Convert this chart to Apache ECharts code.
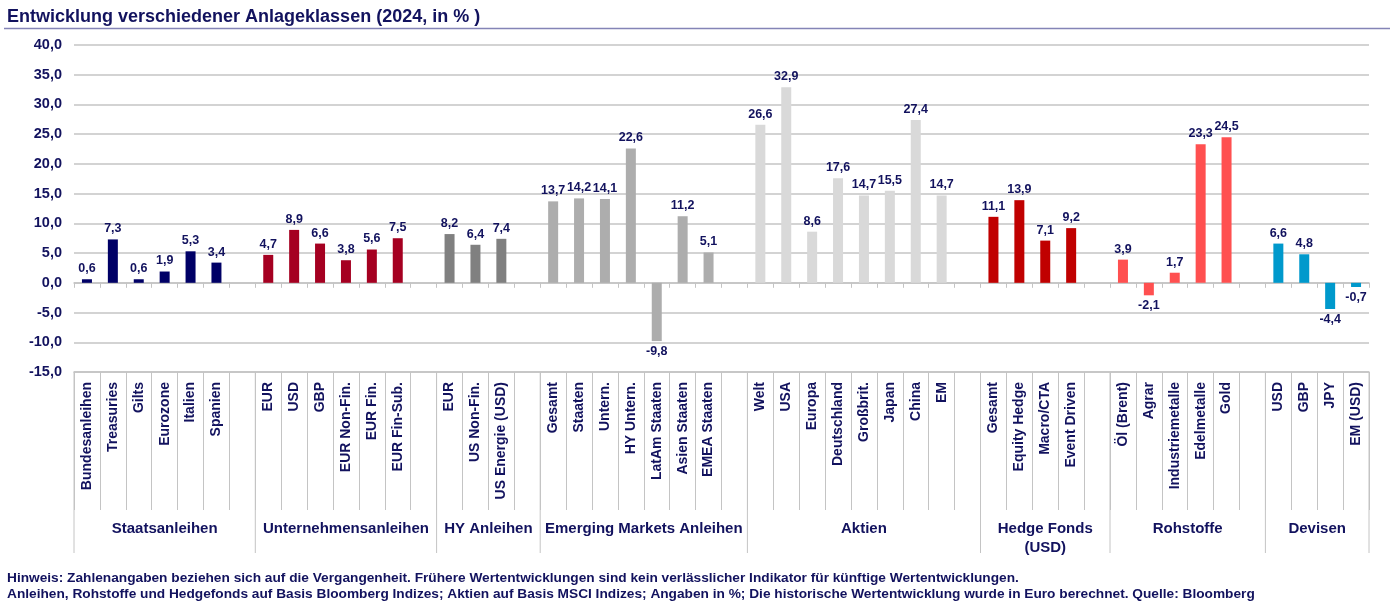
<!DOCTYPE html>
<html><head><meta charset="utf-8">
<script src="https://cdn.jsdelivr.net/npm/echarts@6/dist/echarts.min.js"></script>
<style>html,body{margin:0;padding:0;background:#fff}#c{width:1400px;height:614px}</style>
</head><body><div id="c"></div>
<script>
const categories = ['Bundesanleihen','Treasuries','Gilts','Eurozone','Italien','Spanien','',
  'EUR','USD','GBP','EUR Non-Fin.','EUR Fin.','EUR Fin-Sub.','',
  'EUR','US Non-Fin.','US Energie (USD)','',
  'Gesamt','Staaten','Untern.','HY Untern.','LatAm Staaten','Asien Staaten','EMEA Staaten','',
  'Welt','USA','Europa','Deutschland','Großbrit.','Japan','China','EM','',
  'Gesamt','Equity Hedge','Macro/CTA','Event Driven','',
  'Öl (Brent)','Agrar','Industriemetalle','Edelmetalle','Gold','',
  'USD','GBP','JPY','EM (USD)'];
const values = [0.6,7.3,0.6,1.9,5.3,3.4,null,
  4.7,8.9,6.6,3.8,5.6,7.5,null,
  8.2,6.4,7.4,null,
  13.7,14.2,14.1,22.6,-9.8,11.2,5.1,null,
  26.6,32.9,8.6,17.6,14.7,15.5,27.4,14.7,null,
  11.1,13.9,7.1,9.2,null,
  3.9,-2.1,1.7,23.3,24.5,null,
  6.6,4.8,-4.4,-0.7];
const groupNames = ['Staatsanleihen','Unternehmensanleihen','HY Anleihen','Emerging Markets Anleihen','Aktien','Hedge Fonds\n(USD)','Rohstoffe','Devisen'];
const groupSlots = [7,7,4,8,9,5,6,4];
const groupColors = ['#000066','#A50021','#808080','#ADADAD','#D9D9D9','#C00000','#FF5050','#0099CC'];
const yTicks = {min:-15, max:40, interval:5};
const titleText = 'Entwicklung verschiedener Anlageklassen (2024, in % )';
const noteLines = ['Hinweis: Zahlenangaben beziehen sich auf die Vergangenheit. Frühere Wertentwicklungen sind kein verlässlicher Indikator für künftige Wertentwicklungen.',
  'Anleihen, Rohstoffe und Hedgefonds auf Basis Bloomberg Indizes; Aktien auf Basis MSCI Indizes; Angaben in %; Die historische Wertentwicklung wurde in Euro berechnet. Quelle: Bloomberg'];

const navy = '#12125E';
const gridCol = '#C4C4C4';
const FONT = 'Liberation Sans, Arial, sans-serif';

const slotColor = [];
groupSlots.forEach((n,g)=>{ for(let i=0;i<n;i++) slotColor.push(groupColors[g]); });

const barData = values.map((v,i)=> v===null ? null : ({
  value: v,
  itemStyle:{color: slotColor[i]},
  label:{position: v<0 ? 'bottom' : 'top'}
}));

const chart = echarts.init(document.getElementById('c'), null, {renderer:'canvas'});
chart.setOption({
  animation:false,
  backgroundColor:'#fff',
  grid:{left:74, right:31, top:45, bottom:242},
  xAxis:[
    {type:'category', data:categories, position:'bottom',
     axisLine:{onZero:true, lineStyle:{color:gridCol, width:1.5}},
     axisTick:{show:true, interval:0, length:5, lineStyle:{color:gridCol, width:1}},
     axisLabel:{show:false}, splitLine:{show:false}},
    {type:'category', data:categories, position:'bottom',
     axisLine:{onZero:false, lineStyle:{color:gridCol, width:1.5}},
     axisTick:{show:true, interval:0, length:138, lineStyle:{color:gridCol, width:1}},
     axisLabel:{interval:0, rotate:90, margin:10, color:navy, fontFamily:FONT, fontWeight:'bold', fontSize:14},
     splitLine:{show:false}}
  ],
  yAxis:{type:'value', min:yTicks.min, max:yTicks.max, interval:yTicks.interval,
    axisLine:{show:false}, axisTick:{show:false},
    axisLabel:{margin:12, color:navy, fontFamily:FONT, fontWeight:'bold', fontSize:14.5,
      formatter:v=>v.toFixed(1).replace('.',',')},
    splitLine:{lineStyle:{color:gridCol, width:1.5}}},
  series:[{type:'bar', xAxisIndex:1, data:barData, barWidth:10,
    label:{show:true, distance:4, color:navy, fontFamily:FONT, fontWeight:'bold', fontSize:12.5,
      formatter:p=>p.value.toFixed(1).replace('.',',')}}]
});

const px = i => chart.convertToPixel({xAxisIndex:1}, i);
const half = (px(1)-px(0))/2;
const yBase = chart.convertToPixel({yAxisIndex:0}, yTicks.min);
const gfx = [];
let start = 0;
const bounds = [];
groupSlots.forEach((n,g)=>{
  const x0 = px(start)-half, x1 = px(start+n-1)+half;
  bounds.push(x0); if(g===groupSlots.length-1) bounds.push(x1);
  gfx.push({type:'text', x:(x0+x1)/2, y:yBase+147, style:{text:groupNames[g], fill:navy,
    font:'bold 15px '+FONT, align:'center', verticalAlign:'top', lineHeight:19}});
  start += n;
});
bounds.forEach(x=>gfx.push({type:'line', shape:{x1:x, y1:yBase, x2:x, y2:yBase+181},
  style:{stroke:gridCol, lineWidth:1}}));
gfx.push({type:'text', x:7, y:17, style:{text:titleText, fill:navy, font:'bold 18px '+FONT, verticalAlign:'middle'}});
gfx.push({type:'line', shape:{x1:4, y1:28.5, x2:1390, y2:28.5}, style:{stroke:'#8484B6', lineWidth:1.5}});
gfx.push({type:'text', x:7, y:578, style:{text:noteLines[0], fill:navy, font:'bold 13.7px '+FONT, verticalAlign:'middle'}});
gfx.push({type:'text', x:7, y:594, style:{text:noteLines[1], fill:navy, font:'bold 13.7px '+FONT, verticalAlign:'middle'}});
chart.setOption({graphic:gfx});
</script></body></html>
